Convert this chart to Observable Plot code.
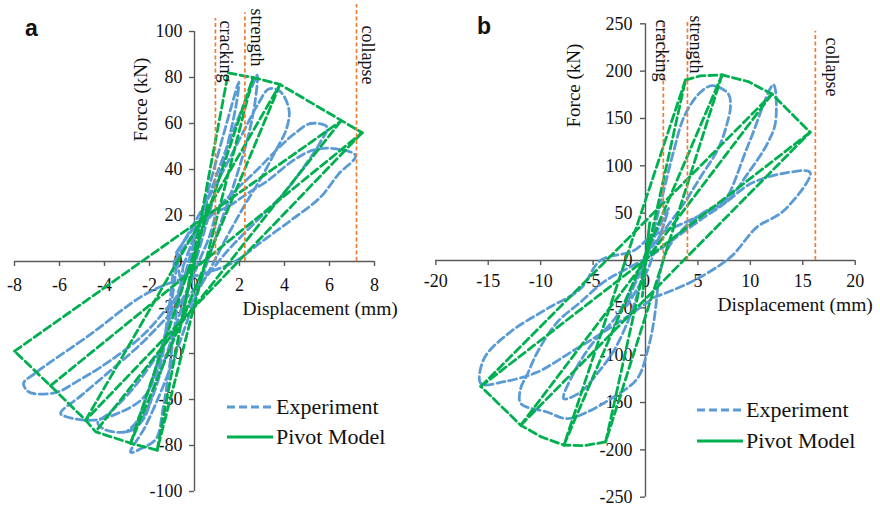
<!DOCTYPE html>
<html><head><meta charset="utf-8">
<script src="https://cdn.jsdelivr.net/npm/d3@7"></script>
<script src="https://cdn.jsdelivr.net/npm/@observablehq/plot@0.6"></script>
<style>
body{margin:0;background:#fff;}
#wrap{position:relative;width:880px;height:508px;overflow:hidden;font-family:"Liberation Serif","DejaVu Serif","Noto Serif",serif;color:#111;}
.panel{position:absolute;top:0;}
.panel text{font-family:"Liberation Serif","DejaVu Serif","Noto Serif",serif;}
.plab{position:absolute;font-family:"Liberation Sans","DejaVu Sans",Arial,sans-serif;font-weight:bold;font-size:23px;line-height:1;}
.leg{position:absolute;font-size:22px;line-height:1;white-space:nowrap;font-family:"Liberation Serif","DejaVu Serif","Noto Serif",serif;}
.leg svg{position:absolute;left:0;top:0;overflow:visible;}
</style></head>
<body><div id="wrap"></div>
<script>
// ---------- Panel a data (displacement mm, force kN) ----------
const xTicksA = [-8,-6,-4,-2,0,2,4,6,8];
const yTicksA = [-100,-80,-60,-40,-20,0,20,40,60,80,100];
const experimentA = [
  [[-0.3,-5],[0.3,14],[0.9,21],[0.7,12],[0.2,0],[-0.3,-12],[-0.8,-20],[-0.6,-12],[-0.3,-5]],
  [[-0.4,-5],[0.3,20],[1.0,45],[1.6,66],[1.97,78],[1.85,68],[1.4,48],[0.8,26],[0.2,5],[-0.5,-18],[-1.3,-42],[-2.0,-62],[-2.6,-72],[-3.0,-74],[-2.6,-70],[-2.0,-55],[-1.4,-35],[-0.9,-18],[-0.4,-5]],
  [[-0.5,-2],[0.4,22],[1.3,46],[2.1,66],[2.6,77],[2.79,81],[2.7,70],[2.4,55],[1.8,35],[1.1,15],[0.4,-5],[-0.4,-28],[-1.3,-52],[-2.2,-72],[-2.84,-83],[-2.3,-81],[-1.7,-77],[-1.4,-64],[-1.1,-45],[-0.8,-22],[-0.5,-2]],
  [[-0.7,5],[0.3,22],[1.2,38],[2.1,55],[2.8,68],[3.3,75],[3.8,74],[4.2,66],[4.1,58],[3.6,48],[3.0,37],[2.2,24],[1.4,10],[0.6,-5],[-0.4,-22],[-1.6,-40],[-2.8,-56],[-3.8,-66],[-4.3,-70],[-4.0,-73],[-3.0,-74],[-2.3,-69],[-1.8,-55],[-1.3,-35],[-0.7,5]],
  [[-0.9,0],[0.2,15],[1.5,28],[2.8,40],[3.8,50],[4.5,56],[5.16,60],[5.9,58.4],[5.6,52],[5.0,43],[4.0,30],[2.8,18],[1.5,5],[0.4,-8],[-1.0,-22],[-2.4,-36],[-3.8,-48],[-5.0,-58],[-5.95,-66],[-5.7,-67.5],[-4.5,-69],[-3.4,-66],[-2.25,-59],[-1.6,-45],[-1.2,-25],[-0.9,0]],
  [[-0.8,4],[0.4,19],[1.45,23.6],[2.34,29.5],[3.23,35],[4.4,44],[5.3,48.5],[6.3,49],[7.16,46],[6.4,38],[5.6,28],[4.3,18],[2.9,8],[1.8,0],[0.5,-5],[-1.0,-9],[-2.4,-15.5],[-4.6,-31.5],[-7.1,-48.7],[-7.6,-53],[-7.4,-56.5],[-7.1,-57.5],[-6.1,-56.8],[-5.2,-52],[-4.18,-46],[-2.4,-33],[-1.2,-20],[-0.6,-12],[-0.7,-4],[-0.8,4]]
];
const pivotA = [
  [[0,0],[0.6,25],[0.1,5],[-0.5,-22],[0,0]],
  [[-1.66,-82],[1.5,82]],
  [[2.6,80],[-1.66,-82]],
  [[-2.84,-79],[2.6,80]],
  [[3.8,77],[-2.84,-79]],
  [[-4.84,-69],[3.8,77]],
  [[6.5,61],[-4.4,-74]],
  [[-8,-39],[6.5,61]],
  [[7.45,56],[-4.84,-69]],
  [[-6.4,-54],[7.45,56]],
  [[1.5,82],[2.6,80],[3.8,77],[7.45,56]],
  [[-1.66,-82],[-2.84,-79],[-4.4,-74],[-4.84,-69],[-6.4,-54],[-8,-39]]
];
const limitNames = ["cracking","strength","collapse"];
const limitDA = [0.93, 2.24, 7.2];
const limitTopA = [105.6, 108, 111.7];
const limitLabelDA = [1.38, 2.76, 7.69];
const limitLabelTopA = [104.8, 110, 102.6];

// ---------- Panel b data ----------
const xTicksB = [-20,-15,-10,-5,0,5,10,15,20];
const yTicksB = [-250,-200,-150,-100,-50,0,50,100,150,200,250];
const experimentB = [
  [[-0.3,-10],[0.5,15],[1.5,40],[2.2,55],[1.8,40],[1.0,15],[0.2,-10],[-0.8,-30],[-1.8,-48],[-1.4,-35],[-0.8,-20],[-0.3,-10]],
  [[-0.6,-30],[0.3,10],[1.43,60],[2.7,116],[3.65,151],[5.08,176],[6.35,184.6],[7.9,176],[8.1,162],[7.93,151],[7.0,119.5],[5.24,88],[3.65,60],[2.0,35],[0.5,12],[-1.2,-25],[-2.7,-58],[-5.2,-89.7],[-6.8,-117.8],[-7.8,-146],[-6.2,-139],[-4.5,-118],[-3.0,-95],[-1.6,-62],[-0.6,-30]],
  [[1.2,-25],[2.0,10],[4.0,38],[6.2,55],[7.46,62],[9.8,122],[12.2,185.7],[12.4,146],[11.6,123],[9.7,91],[7.8,63],[5.5,45],[3.0,25],[0.5,5],[-2.0,-10],[-4.0,-22.8],[-6.2,-44],[-8.4,-65],[-10.3,-96.7],[-11.3,-121],[-11.9,-135],[-11.9,-151],[-9.4,-160],[-7.5,-167],[-5.55,-160],[-3.3,-146],[-0.8,-125],[0.2,-95],[0.8,-64],[1.2,-25]],
  [[0.8,-39],[4.3,-23],[8.1,3.5],[10.6,35],[13.2,52.7],[15.7,93],[12.9,91.4],[10.0,81],[7.46,60],[4.9,46],[2.7,35],[0.5,25],[-1.1,10.5],[-4.3,0],[-6.2,-29.9],[-9.4,-51],[-12.9,-75.6],[-15.4,-103.7],[-15.7,-130],[-13.5,-128],[-10.3,-117.8],[-7.1,-96.7],[-4.0,-75.6],[-1.1,-54.5],[0.8,-39]]
];
const pivotB = [
  [[0,0],[0.4,40],[-0.3,-38],[0,0]],
  [[-3.8,-191.6],[3.81,190.6]],
  [[3.81,190.6],[-7.78,-195]],
  [[-7.78,-195],[7.3,196]],
  [[7.3,196],[-3.8,-191.6]],
  [[12.06,175.8],[-11.9,-174]],
  [[-11.9,-174],[15.7,135.4]],
  [[15.7,135.4],[-15.7,-133]],
  [[-15.7,-133],[12.06,175.8]],
  [[3.81,190.6],[5.2,195],[7.3,196],[9.8,189],[12.06,175.8],[15.7,135.4]],
  [[-3.8,-191.6],[-5.8,-195.5],[-7.78,-195],[-10,-186],[-11.9,-174],[-15.7,-133]]
];
const limitDB = [1.7, 4.0, 16.2];
const limitTopB = [254, 254, 242];
const limitLabelDB = [1.52, 4.76, 17.8];
const limitLabelTopB = [254.5, 258.7, 235.5];

const xTitle = "Displacement (mm)";
const yTitle = "Force (kN)";
const seriesNames = ["Experiment", "Pivot Model"];

// ---------- styles ----------
const BLUE = "#5B9BD5", GREEN = "#00B050", ORANGE = "#ED7D31", AXIS = "#595959";
const SERIF = '"Liberation Serif","DejaVu Serif","Noto Serif",serif';

function rows(loops){ return loops.flatMap((pts,i)=>pts.map(([d,f])=>({loop:i,d,f}))); }

function panel(cfg){
  const lim = limitNames.map((n,i)=>({name:n, d:cfg.limD[i], top:cfg.limTop[i], ld:cfg.limLD[i], lt:cfg.limLT[i]}));
  const xd = [cfg.xTicks[0], cfg.xTicks[cfg.xTicks.length-1]];
  const yd = [cfg.yTicks[0], cfg.yTicks[cfg.yTicks.length-1]];
  return Plot.plot({
    width: cfg.width, height: 508,
    marginLeft: cfg.ml, marginRight: cfg.mr, marginTop: cfg.mt, marginBottom: cfg.mb,
    x: {domain: xd, axis: null},
    y: {domain: yd, axis: null},
    style: {fontFamily: SERIF, background: "transparent", overflow: "visible", color: "#111"},
    marks: [
      Plot.ruleY([0], {x1: xd[0], x2: xd[1], stroke: AXIS, strokeWidth: 1.4}),
      Plot.ruleX([0], {y1: yd[0], y2: yd[1], stroke: AXIS, strokeWidth: 1.4}),
      Plot.ruleX(cfg.xTicks, {x: d=>d, y1: 0, y2: 0, insetBottom: -5, stroke: AXIS, strokeWidth: 1.4}),
      Plot.ruleY(cfg.yTicks, {y: d=>d, x1: 0, x2: 0, insetLeft: -5, stroke: AXIS, strokeWidth: 1.4}),
      Plot.text(cfg.xTicks, {x: d=>d, y: 0, text: d=>String(d), dy: cfg.xdy, fontSize: 18, fill: "#111", fontFamily: SERIF}),
      Plot.text(cfg.yTicks, {x: 0, y: d=>d, text: d=>String(d), dx: cfg.ydx, textAnchor: "end", fontSize: 18, fill: "#111", fontFamily: SERIF}),
      Plot.line(rows(cfg.exp), {x: "d", y: "f", z: "loop", stroke: BLUE, strokeWidth: 2.8, strokeDasharray: "8,4", curve: "catmull-rom"}),
      Plot.line(rows(cfg.piv), {x: "d", y: "f", z: "loop", stroke: GREEN, strokeWidth: 2.8, strokeDasharray: "8,4"}),
      Plot.ruleX(lim, {x: "d", y1: 0, y2: "top", stroke: ORANGE, strokeWidth: 1.7, strokeDasharray: "4,2.5"}),
      Plot.text(lim, {x: "ld", y: "lt", text: "name", rotate: 90, textAnchor: "start", fontSize: 18, fill: "#111", fontFamily: SERIF}),
      Plot.text([yTitle], {x: cfg.ytx, y: cfg.yty, text: d=>d, rotate: -90, fontSize: 19, fill: "#111", fontFamily: SERIF}),
      Plot.text([xTitle], {x: cfg.xtx, y: cfg.xty, text: d=>d, textAnchor: "start", fontSize: 19.5, fill: "#111", fontFamily: SERIF})
    ]
  });
}

const wrap = document.getElementById("wrap");
const pa = panel({width: 440, ml: 14, mr: 66, mt: 31, mb: 17, xTicks: xTicksA, yTicks: yTicksA,
  exp: experimentA, piv: pivotA, limD: limitDA, limTop: limitTopA, limLD: limitLabelDA, limLT: limitLabelTopA,
  xdy: 24, ydx: -12, ytx: -2.4, yty: 70.4, xtx: 2.13, xty: -20.4});
pa.classList.add("panel"); pa.style.left = "0px";
wrap.appendChild(pa);
const pb = panel({width: 460, ml: 15.3, mr: 25.3, mt: 23.3, mb: 11.3, xTicks: xTicksB, yTicks: yTicksB,
  exp: experimentB, piv: pivotB, limD: limitDB, limTop: limitTopB, limLD: limitLabelDB, limLT: limitLabelTopB,
  xdy: 21, ydx: -13, ytx: -6.86, yty: 184.8, xtx: 6.86, xty: -46.5});
pb.classList.add("panel"); pb.style.left = "420px";
wrap.appendChild(pb);

function label(t, x, y){ const d = document.createElement("div"); d.className = "plab"; d.textContent = t; d.style.left = x+"px"; d.style.top = y+"px"; wrap.appendChild(d); }
label("a", 25, 17); label("b", 477, 15);

function legend(x, y, i, dashed, color){
  const d = document.createElement("div"); d.className = "leg";
  d.style.left = x+"px"; d.style.top = (y-11)+"px"; d.style.paddingLeft = "49px";
  d.innerHTML = `<svg width="46" height="22"><line x1="0" x2="46" y1="11" y2="11" stroke="${color}" stroke-width="3" ${dashed?'stroke-dasharray="8,4"':''}/></svg>`;
  d.appendChild(document.createTextNode(seriesNames[i]));
  wrap.appendChild(d);
}
legend(227, 407, 0, true, BLUE); legend(227, 437, 1, false, GREEN);
legend(697, 410, 0, true, BLUE); legend(697, 441, 1, false, GREEN);
</script></body></html>
